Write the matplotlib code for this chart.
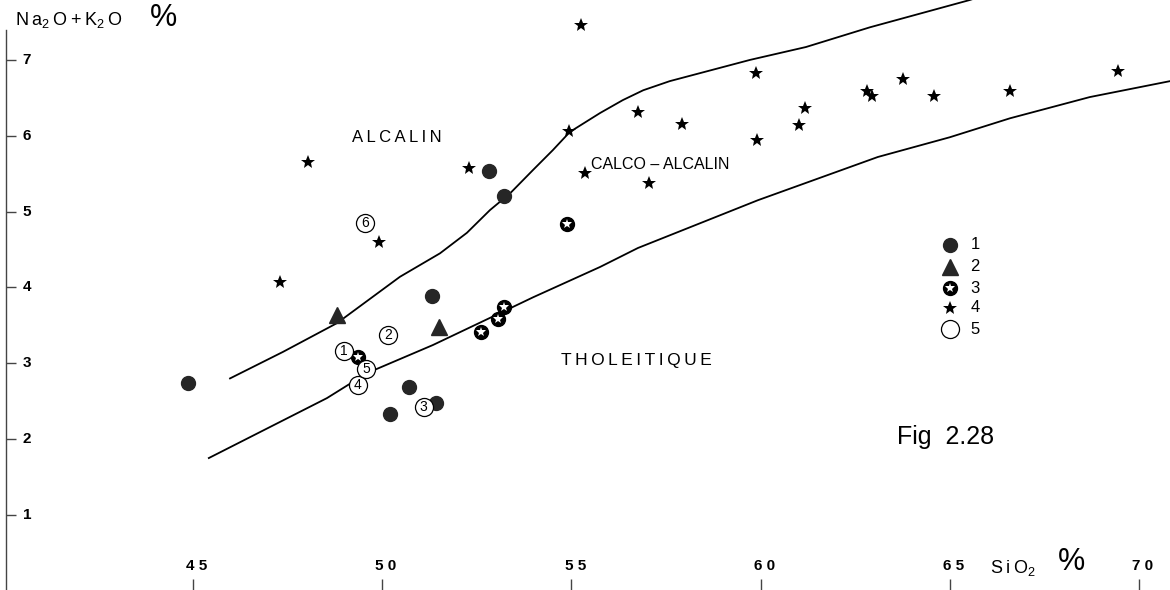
import matplotlib
matplotlib.use('Agg')
import matplotlib.pyplot as plt

plt.rcParams['font.family'] = ['Liberation Sans', 'DejaVu Sans']
plt.rcParams['mathtext.fontset'] = 'custom'
plt.rcParams['mathtext.rm'] = 'Liberation Sans'
plt.rcParams['mathtext.it'] = 'Liberation Sans'

# group 1 : filled circles
x1 = [44.87, 52.82, 53.22, 51.32, 50.71, 50.21, 51.42]
y1 = [2.74, 5.53, 5.20, 3.89, 2.69, 2.33, 2.48]
# group 2 : triangles
x2 = [48.81, 51.50]
y2 = [3.64, 3.48]
# group 3 : circle with star
x3 = [54.88, 53.22, 53.06, 52.61, 49.36]
y3 = [4.83, 3.74, 3.58, 3.41, 3.08]
# group 4 : stars
x4 = [48.04, 47.30, 49.92, 52.29, 55.25, 54.94, 55.36, 56.77, 57.04, 57.92,
      59.87, 59.90, 61.02, 61.18, 62.80, 62.95, 63.77, 64.58, 66.58, 69.45]
y4 = [5.65, 4.07, 4.60, 5.57, 7.46, 6.06, 5.51, 6.31, 5.38, 6.15,
      6.83, 5.94, 6.14, 6.37, 6.59, 6.52, 6.75, 6.53, 6.59, 6.86]
# group 5 : numbered open circles
x5 = [48.99, 50.15, 51.10, 49.36, 49.57, 49.55]
y5 = [3.16, 3.37, 2.42, 2.71, 2.92, 4.85]
labels5 = ['1', '2', '3', '4', '5', '6']

# boundary curves
upper_x = [45.98, 47.38, 48.81, 50.47, 51.53, 52.24, 52.85, 53.38, 53.99, 54.51,
           54.96, 55.76, 56.36, 56.9, 57.6, 59.72, 61.2, 62.89, 65.53, 66.5]
upper_y = [2.80, 3.15, 3.53, 4.14, 4.45, 4.72, 5.02, 5.24, 5.55, 5.81,
           6.05, 6.30, 6.47, 6.60, 6.72, 7.00, 7.17, 7.43, 7.79, 7.95]
lower_x = [45.42, 48.54, 49.60, 51.34, 53.11, 53.99, 55.76, 56.76, 59.93,
           63.10, 65.0, 66.59, 68.7, 70.82]
lower_y = [1.75, 2.54, 2.87, 3.24, 3.66, 3.87, 4.27, 4.52, 5.15,
           5.72, 5.98, 6.23, 6.51, 6.72]

xticks = [45, 50, 55, 60, 65, 70]
yticks = [1, 2, 3, 4, 5, 6, 7]
legend_y = [4.56, 4.27, 3.99, 3.73, 3.45]

ts = '\u2009'  # thin space for the letter-spaced lettering

fig = plt.figure(figsize=(11.7, 5.9), dpi=100)
ax = fig.add_axes([6 / 1170, 0, 1164 / 1170, 1])
ax.set_xlim(40.06, 70.82)
ax.set_ylim(0.01, 7.79)

for s in ['top', 'right', 'bottom']:
    ax.spines[s].set_visible(False)
ax.spines['left'].set_bounds(0.01, 7.4)
ax.spines['left'].set_linewidth(1.0)
ax.spines['left'].set_color('#444444')

ax.set_xticks(xticks)
ax.set_yticks(yticks)
ax.tick_params(axis='y', direction='in', length=7, width=1.0, color='#444444', labelleft=False)
ax.tick_params(axis='x', direction='in', length=8, width=1.0, color='#444444', labelbottom=False)

for v in yticks:
    ax.text(40.5, v, str(v), ha='left', va='center', fontsize=11, fontweight='bold')
for v in xticks:
    ax.text(v + 0.1, 0.33, ' '.join(str(v)), ha='center', va='center', fontsize=11, fontweight='bold')

ax.plot(upper_x, upper_y, color='black', lw=1.3)
ax.plot(lower_x, lower_y, color='black', lw=1.3)

ax.plot(x1, y1, 'o', ms=10, color='#262626', zorder=3)
ax.plot(x2, y2, '^', ms=12, color='#262626', zorder=3)
ax.plot(x3, y3, 'o', ms=10, color='black', zorder=3)
ax.plot(x3, y3, '*', ms=7, color='white', markeredgewidth=0, zorder=4)
ax.plot(x4, y4, '*', ms=10, color='black', markeredgewidth=0, zorder=3)
ax.plot(x5, y5, 'o', ms=13, markerfacecolor='white', markeredgecolor='black', mew=0.9, zorder=5)
for x, y, t in zip(x5, y5, labels5):
    ax.text(x, y, t, ha='center', va='center', fontsize=10, zorder=6)

# legend
lx = 65.0
ax.plot([lx], [legend_y[0]], 'o', ms=10, color='#262626')
ax.plot([lx], [legend_y[1]], '^', ms=12, color='#262626')
ax.plot([lx], [legend_y[2]], 'o', ms=10, color='black')
ax.plot([lx], [legend_y[2]], '*', ms=7, color='white', markeredgewidth=0)
ax.plot([lx], [legend_y[3]], '*', ms=10, color='black', markeredgewidth=0)
ax.plot([lx], [legend_y[4]], 'o', ms=13, markerfacecolor='white', markeredgecolor='black', mew=0.9)
for i, y in enumerate(legend_y):
    ax.text(lx + 0.55, y, str(i + 1), ha='left', va='center', fontsize=12)

ax.text(50.39, 5.98, ts.join('ALCALIN'), ha='center', va='center', fontsize=12)
ax.text(57.34, 5.62, 'CALCO – ALCALIN', ha='center', va='center', fontsize=11.5)
ax.text(56.71, 3.04, ts.join('THOLEITIQUE'), ha='center', va='center', fontsize=12.5)
ax.text(64.9, 2.03, 'Fig  2.28', ha='center', va='center', fontsize=18)

ax.text(40.30, 7.53, 'N' + ts + 'a$_2$' + ts + 'O' + ts + '+' + ts + 'K$_2$' + ts + 'O',
        ha='left', va='center', fontsize=13)
ax.text(43.87, 7.55, '%', ha='left', va='center', fontsize=22)
ax.text(66.06, 0.30, 'S' + ts + 'i' + ts + 'O$_2$', ha='left', va='center', fontsize=13)
ax.text(67.85, 0.38, '%', ha='left', va='center', fontsize=22)

fig.savefig('out.png', dpi=100)
